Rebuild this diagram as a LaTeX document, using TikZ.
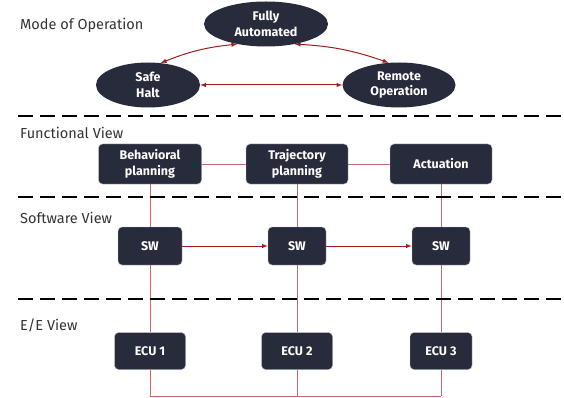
\documentclass[tikz,border=0pt]{standalone}
\usepackage{fontspec}
\setmainfont{Fira Sans}
\usetikzlibrary{shapes.geometric,backgrounds}

\definecolor{boxfill}{HTML}{282B3B}
\definecolor{arrowred}{HTML}{9A1F1F}
\definecolor{linkred}{HTML}{C86A6A}
\definecolor{labelgray}{HTML}{333333}

\begin{document}
\begin{tikzpicture}[x=1pt,y=-1pt]
   \tikzstyle{mode}=[ellipse, fill=boxfill, text=white, font=\fontsize{12.5}{15.5}\selectfont\bfseries, align=center, inner sep=0pt, minimum height=45pt]
   \tikzstyle{block}=[rectangle, rounded corners=4pt, fill=boxfill, draw=gray!50, text=white, font=\fontsize{12.5}{15.5}\selectfont\bfseries, align=center, inner sep=0pt]
   \tikzstyle{viewlabel}=[anchor=west, text=labelgray, font=\fontsize{14.5}{16}\selectfont, inner sep=0pt]
   \tikzstyle{layerline}=[line width=2.2pt, dash pattern=on 15pt off 7pt]
   \tikzstyle{switch}=[<->, >=latex, arrowred, line width=1pt]
   \tikzstyle{flow}=[->, >=latex, arrowred, line width=1pt]
   \tikzstyle{link}=[linkred, line width=0.6pt]

\useasboundingbox (0,0) rectangle (564,398);

% mode of operation
\node[viewlabel] (lmode) at (20,25) {Mode of Operation};
\node[mode, minimum width=124pt] (fully) at (266,24) {Fully\\Automated};
\node[mode, minimum width=104pt] (halt) at (148,85) {Safe\\Halt};
\node[mode, minimum width=113pt] (remote) at (399,85) {Remote\\Operation};

\draw[switch] (halt.60) to[bend left=8] (fully.215);
\draw[switch] (fully.-35) to[bend left=8] (remote.115);
\draw[switch] (halt) -- (remote);

\draw[layerline] (18,116) -- (564,116);

% functional view
\node[viewlabel] (lfunc) at (20,133) {Functional View};
\node[block, minimum width=103pt, minimum height=40pt] (behav) at (150,164) {Behavioral\\planning};
\node[block, minimum width=102pt, minimum height=40pt] (traj) at (297,164) {Trajectory\\planning};
\node[block, minimum width=102pt, minimum height=40pt] (act) at (441,164) {Actuation};

\draw[layerline] (18,197) -- (564,197);

% software view
\node[viewlabel] (lsw) at (20,218) {Software View};
\node[block, minimum width=64pt, minimum height=38pt] (sw1) at (150,246) {SW};
\node[block, minimum width=58pt, minimum height=38pt] (sw2) at (297,246) {SW};
\node[block, minimum width=58pt, minimum height=38pt] (sw3) at (441,246) {SW};

\draw[flow] (sw1) -- (sw2);
\draw[flow] (sw2) -- (sw3);

\draw[layerline] (18,299) -- (564,299);

% E/E view
\node[viewlabel] (lee) at (20,325) {E/E View};
\node[block, minimum width=71pt, minimum height=37pt] (ecu1) at (150,351) {ECU 1};
\node[block, minimum width=71pt, minimum height=37pt] (ecu2) at (297,351) {ECU 2};
\node[block, minimum width=62pt, minimum height=37pt] (ecu3) at (441,351) {ECU 3};

\coordinate (bus1) at (150,396);
\coordinate (bus2) at (297,396);
\coordinate (bus3) at (441,396);

\begin{pgfonlayer}{background}
\draw[link] (behav) -- (traj) -- (act);
\draw[link] (behav) -- (sw1) -- (ecu1) -- (bus1) -- (bus3);
\draw[link] (traj) -- (sw2) -- (ecu2) -- (bus2);
\draw[link] (act) -- (sw3) -- (ecu3) -- (bus3);
\end{pgfonlayer}

\end{tikzpicture}
\end{document}
